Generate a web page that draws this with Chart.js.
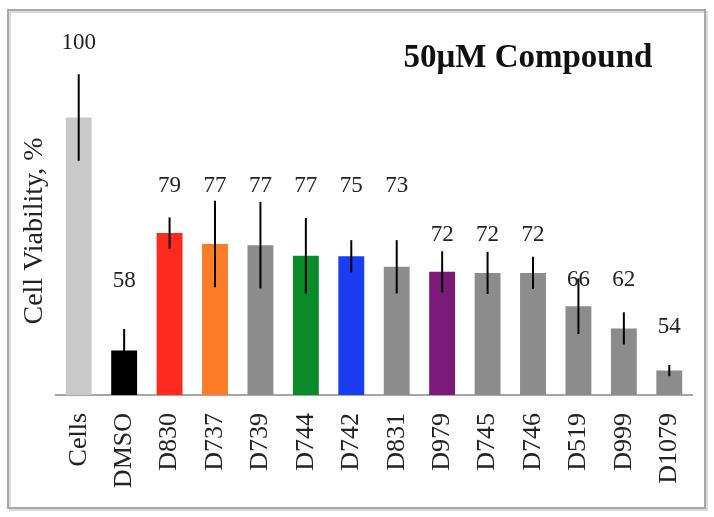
<!DOCTYPE html>
<html>
<head>
<meta charset="utf-8">
<script src="https://cdn.jsdelivr.net/npm/chart.js@4/dist/chart.umd.min.js"></script>
<style>
  html, body { margin: 0; padding: 0; background: #fff; }
  canvas { display: block; }
</style>
</head>
<body>
<canvas id="viability" width="714" height="517"></canvas>
<script>
// values
const categories = ['Cells', 'DMSO', 'D830', 'D737', 'D739', 'D744', 'D742',
                    'D831', 'D979', 'D745', 'D746', 'D519', 'D999', 'D1079'];
const viability = [100, 58, 79.2, 77.2, 77, 75.1, 75, 73.1, 72.2, 72, 72, 66, 62, 54.4];
const errors = [7.8, 3.9, 2.8, 7.8, 7.8, 6.8, 2.9, 4.8, 3.7, 3.8, 2.9, 5, 2.9, 1];
const valueLabels = ['100', '58', '79', '77', '77', '77', '75', '73', '72', '72', '72', '66', '62', '54'];
// height (in % units) where each number label sits
const labelLevels = [113.5, 70.6, 87.7, 87.6, 87.6, 87.6, 87.6, 87.6, 78.8, 78.8, 78.8, 70.8, 70.8, 62.3];

const barColors = ['#c9c9c9', '#000000', '#fd2a1d', '#fd7c28', '#8c8c8c', '#0b8a2a',
                   '#1a3df2', '#8c8c8c', '#7b1a78', '#8c8c8c', '#8c8c8c', '#8c8c8c',
                   '#8c8c8c', '#8c8c8c'];

const SERIF = '"Liberation Serif", "Times New Roman", serif';

const framePlugin = {
    id: 'frame',
    beforeDraw(chart) {
        const ctx = chart.ctx;
        ctx.save();
        ctx.fillStyle = '#fff';
        ctx.fillRect(0, 0, chart.width, chart.height);
        ctx.strokeStyle = '#dadada';
        ctx.lineWidth = 2;
        ctx.strokeRect(10, 12, 697, 498);
        ctx.strokeStyle = '#a8a8a8';
        ctx.strokeRect(8, 10, 697, 498);
        ctx.restore();
    },
};

const decorPlugin = {
    id: 'decor',
    afterDatasetsDraw(chart) {
        const ctx = chart.ctx;
        const x = chart.scales.x;
        const y = chart.scales.y;
        ctx.save();
        // error bars
        ctx.strokeStyle = '#000';
        ctx.lineWidth = 2;
        viability.forEach((v, i) => {
            const px = x.getPixelForValue(i);
            ctx.beginPath();
            ctx.moveTo(px, y.getPixelForValue(v + errors[i]));
            ctx.lineTo(px, y.getPixelForValue(v - errors[i]));
            ctx.stroke();
        });
        // number labels
        ctx.fillStyle = '#222';
        ctx.font = '23px ' + SERIF;
        ctx.textAlign = 'center';
        ctx.textBaseline = 'middle';
        valueLabels.forEach((t, i) => {
            ctx.fillText(t, x.getPixelForValue(i), y.getPixelForValue(labelLevels[i]));
        });
        // axis title
        ctx.font = '28px ' + SERIF;
        ctx.translate(35, 231);
        ctx.rotate(-Math.PI / 2);
        ctx.fillText('Cell Viability, %', 0, 0);
        ctx.restore();
        // chart title
        ctx.save();
        ctx.fillStyle = '#111';
        ctx.font = 'bold 33px ' + SERIF;
        ctx.textAlign = 'center';
        ctx.textBaseline = 'alphabetic';
        ctx.fillText('50\u03bcM Compound', 528, 67);
        ctx.restore();
    },
};

new Chart(document.getElementById('viability'), {
    type: 'bar',
    data: {
        labels: categories,
        datasets: [{
            data: viability,
            backgroundColor: barColors,
            borderWidth: 0,
            barPercentage: 0.57,
            categoryPercentage: 1.0,
        }],
    },
    options: {
        responsive: false,
        animation: false,
        layout: { padding: { left: 56, right: 22, top: 6.5, bottom: 0 } },
        plugins: {
            legend: { display: false },
            tooltip: { enabled: false },
        },
        scales: {
            x: {
                grid: { display: false, drawTicks: false },
                border: { display: true, color: '#a6a6a6', width: 2 },
                ticks: {
                    autoSkip: false,
                    minRotation: 90,
                    maxRotation: 90,
                    padding: 18,
                    color: '#222',
                    font: { family: SERIF, size: 26 },
                },
                afterFit(scale) {
                    scale.height = 122;
                    scale.paddingLeft = 0;
                    scale.paddingRight = 0;
                },
            },
            y: {
                display: false,
                min: 50,
                max: 120,
            },
        },
    },
    plugins: [framePlugin, decorPlugin],
});
</script>
</body>
</html>
